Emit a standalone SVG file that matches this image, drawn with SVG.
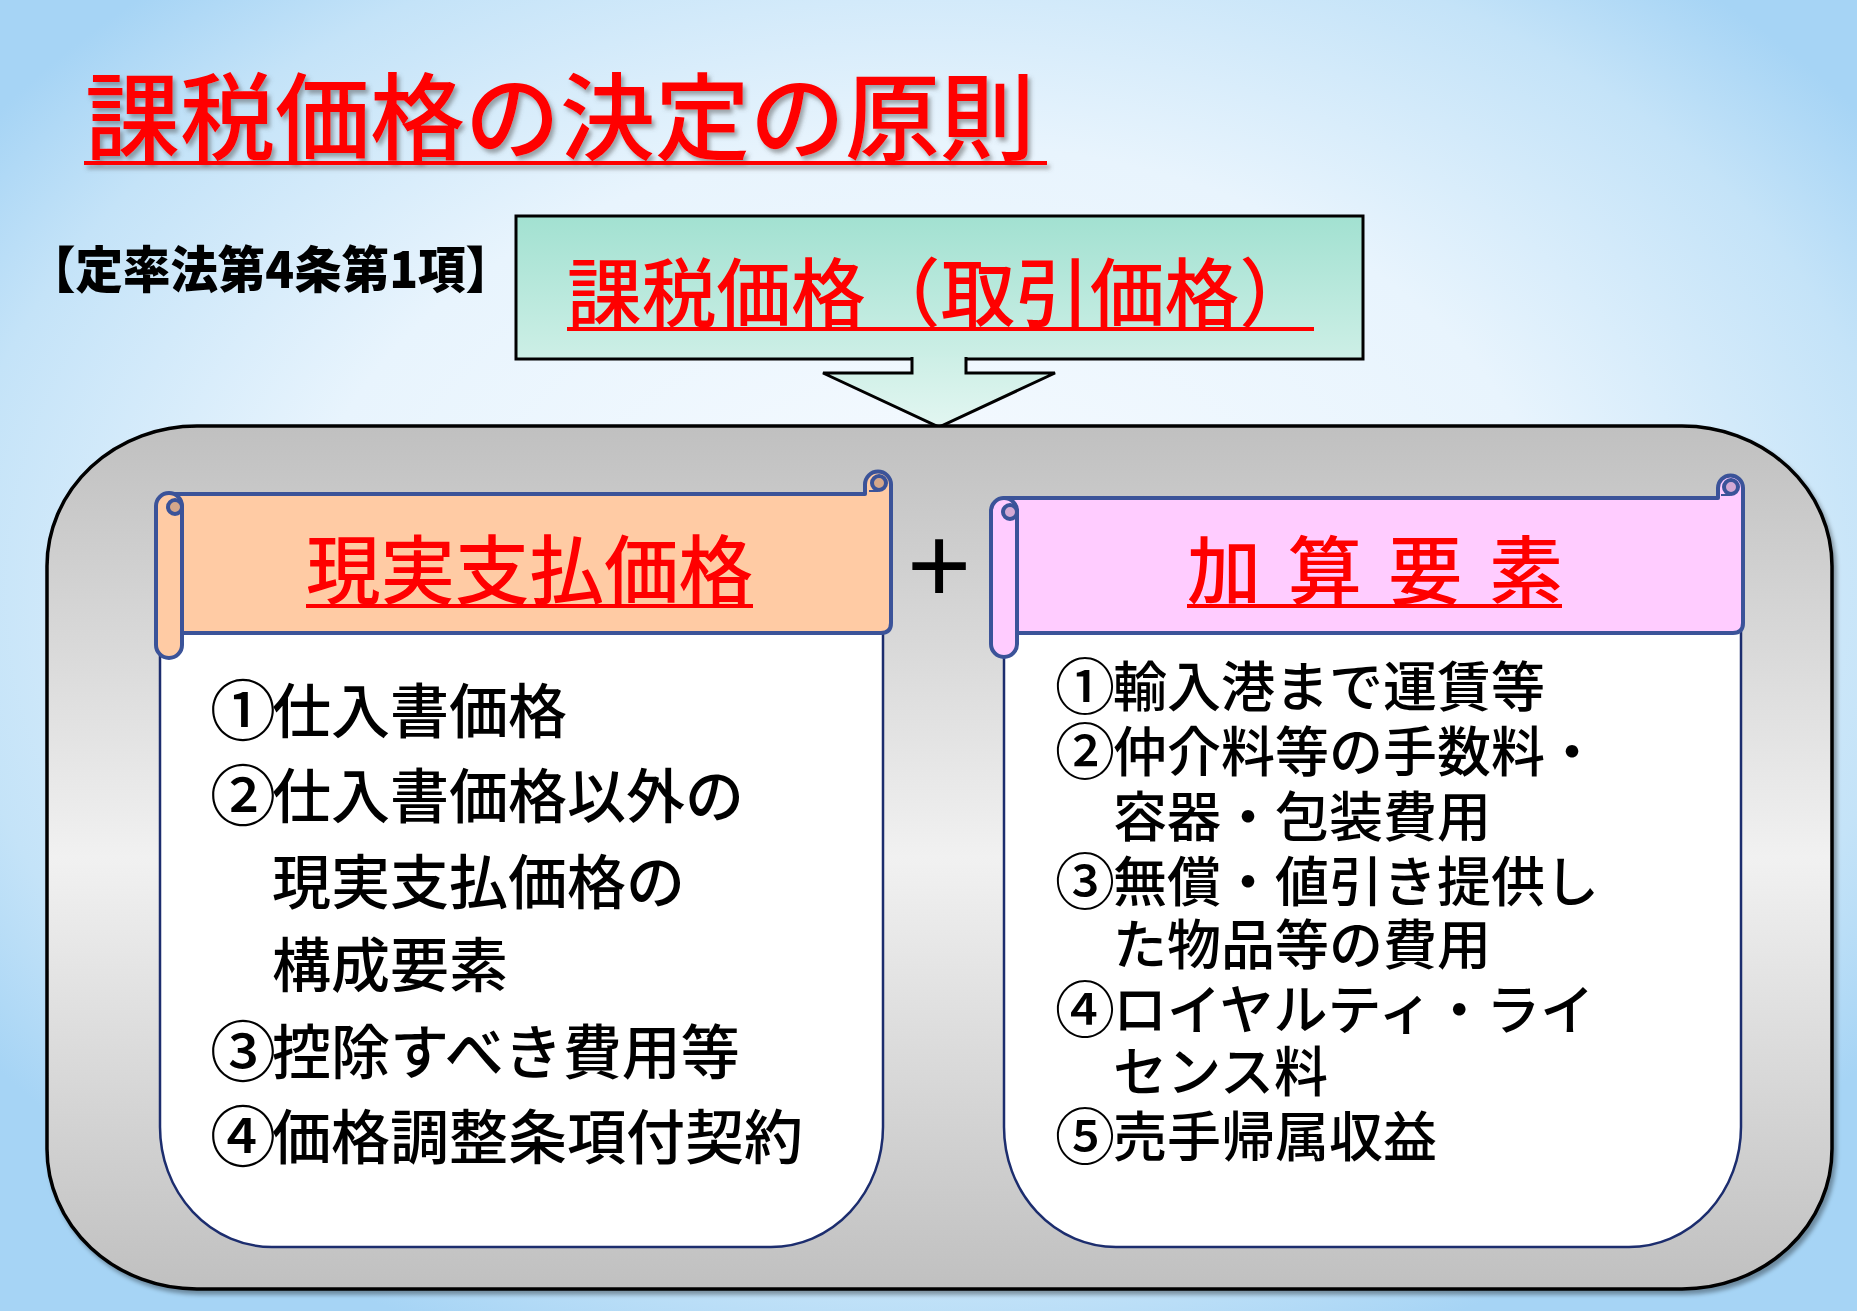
<svg xmlns="http://www.w3.org/2000/svg" width="1857" height="1311" viewBox="0 0 1857 1311">
<defs>
<radialGradient id="bg" cx="0.5" cy="0.45" r="0.62">
<stop offset="0" stop-color="#f7fbff"/>
<stop offset="0.55" stop-color="#e8f4fd"/>
<stop offset="0.85" stop-color="#c4e3f8"/>
<stop offset="1" stop-color="#a6d4f5"/>
</radialGradient>
<linearGradient id="gray" x1="0" y1="0" x2="0" y2="1">
<stop offset="0" stop-color="#c0c0c0"/>
<stop offset="0.5" stop-color="#f1f1f1"/>
<stop offset="1" stop-color="#c0c0c0"/>
</linearGradient>
<linearGradient id="teal" x1="0" y1="0" x2="0" y2="1">
<stop offset="0" stop-color="#a2e1d1"/>
<stop offset="1" stop-color="#cdefe6"/>
</linearGradient>
<linearGradient id="tealArrow" x1="0" y1="0" x2="0" y2="1">
<stop offset="0" stop-color="#cdefe6"/>
<stop offset="1" stop-color="#e2f6f1"/>
</linearGradient>
<filter id="shadow" x="-5%" y="-5%" width="110%" height="115%">
<feDropShadow dx="3" dy="4" stdDeviation="2" flood-color="#000" flood-opacity="0.35"/>
</filter>
<filter id="tshadow" x="-5%" y="-10%" width="110%" height="130%">
<feDropShadow dx="3" dy="4" stdDeviation="2" flood-color="#555" flood-opacity="0.5"/>
</filter>
<style>
.jp{font-family:"Noto Sans CJK JP","Noto Sans CJK SC",sans-serif;}
.red{fill:#ff0000;font-weight:500;}
.item{fill:#000;font-weight:500;}
.L{font-size:59px;}
.R{font-size:54px;}
.cL{font-size:66px;}
.cR{font-size:60px;}
.scroll{stroke:#3b5399;stroke-width:4;stroke-linejoin:round;}
.peach{fill:#ffcba4;}
.peachD{fill:#d5a78a;}
.pink{fill:#ffccff;}
.pinkD{fill:#d4a9d4;}
.panel{fill:#ffffff;stroke:#1c2d6e;stroke-width:2.5;}
.ul{fill:#ff0000;}
</style>
</defs>
<rect x="0" y="0" width="1857" height="1311" fill="url(#bg)"/>

<g id="title" filter="url(#tshadow)">
<text class="jp red" x="85" y="153" font-size="95">課税価格の決定の原則</text>
<rect class="ul" x="84" y="161" width="963" height="4"/>
</g>

<g id="law-ref">
<text class="jp" x="28" y="288" font-size="50" font-weight="900" fill="#000" textLength="485" lengthAdjust="spacingAndGlyphs">【定率法第4条第1項】</text>
</g>

<g id="taxable-value">
<rect x="516" y="216" width="847" height="143" fill="url(#teal)" stroke="#000" stroke-width="3"/>
<text class="jp red" x="567" y="321" font-size="74.7">課税価格（取引価格）</text>
<rect class="ul" x="567" y="327" width="747" height="4"/>
</g>

<g id="connectors">
<path d="M912,357 V373 H823 L939,427 L1055,373 H966 V357" fill="url(#tealArrow)" stroke="#000" stroke-width="3" stroke-linejoin="miter"/>
</g>

<g id="container">
<rect x="47" y="426" width="1785" height="863" rx="150" ry="140" fill="url(#gray)" stroke="#000" stroke-width="3.5" filter="url(#shadow)"/>
</g>

<g id="actual-price">
<path class="panel" d="M160,620 V1127 A112,120 0 0 0 272,1247 H771 A112,120 0 0 0 883,1127 V620"/>
<path class="scroll peach" d="M169,494 H865 V484.5 A13,13 0 0 1 891,484.5 V623 Q891,633 881,633 H169 Z"/>
<circle class="scroll peachD" cx="879" cy="483" r="7" stroke-width="3"/>
<line x1="869" y1="491" x2="878" y2="491" stroke="#3b5399" stroke-width="2"/>
<rect class="scroll peach" x="156" y="493" width="26" height="165" rx="13" ry="13"/>
<circle class="scroll peachD" cx="175" cy="507" r="7" stroke-width="3"/>
<text class="jp red" x="306" y="598" font-size="74.5">現実支払価格</text>
<rect class="ul" x="306" y="604" width="447" height="4"/>
<text class="jp item L" x="210" y="735"><tspan class="cL">①</tspan><tspan dx="-4" dy="-2">仕入書価格</tspan></text>
<text class="jp item L" x="210" y="820"><tspan class="cL">②</tspan><tspan dx="-4" dy="-2">仕入書価格以外の</tspan></text>
<text class="jp item L" x="272" y="904">現実支払価格の</text>
<text class="jp item L" x="272" y="987">構成要素</text>
<text class="jp item L" x="210" y="1076"><tspan class="cL">③</tspan><tspan dx="-4" dy="-2">控除すべき費用等</tspan></text>
<text class="jp item L" x="210" y="1161"><tspan class="cL">④</tspan><tspan dx="-4" dy="-2">価格調整条項付契約</tspan></text>
</g>

<g id="plus">
<text x="939" y="603" font-family="Liberation Sans, Arial, sans-serif" font-size="110" text-anchor="middle" fill="#000">+</text>
</g>

<g id="additions">
<path class="panel" d="M1004,620 V1127 A112,120 0 0 0 1116,1247 H1629 A112,120 0 0 0 1741,1127 V620"/>
<path class="scroll pink" d="M1004,498 H1718 V488 A12.5,12.5 0 0 1 1743,488 V623 Q1743,633 1733,633 H1004 Z"/>
<circle class="scroll pinkD" cx="1731" cy="487" r="7" stroke-width="3"/>
<line x1="1721" y1="495" x2="1730" y2="495" stroke="#3b5399" stroke-width="2"/>
<rect class="scroll pink" x="991" y="498" width="26" height="159" rx="13" ry="13"/>
<circle class="scroll pinkD" cx="1010" cy="512" r="7" stroke-width="3"/>
<text class="jp red" x="1187" y="598" font-size="74" letter-spacing="5" xml:space="preserve">加 算 要 素</text>
<rect class="ul" x="1187" y="604" width="375" height="4"/>
<text class="jp item R" x="1055" y="709"><tspan class="cR">①</tspan><tspan dx="-2" dy="-2">輸入港まで運賃等</tspan></text>
<text class="jp item R" x="1055" y="774"><tspan class="cR">②</tspan><tspan dx="-2" dy="-2">仲介料等の手数料・</tspan></text>
<text class="jp item R" x="1113" y="837">容器・包装費用</text>
<text class="jp item R" x="1055" y="904"><tspan class="cR">③</tspan><tspan dx="-2" dy="-2">無償・値引き提供し</tspan></text>
<text class="jp item R" x="1113" y="965">た物品等の費用</text>
<text class="jp item R" x="1055" y="1032"><tspan class="cR">④</tspan><tspan dx="-2" dy="-2">ロイヤルティ・ライ</tspan></text>
<text class="jp item R" x="1113" y="1092">センス料</text>
<text class="jp item R" x="1055" y="1159"><tspan class="cR">⑤</tspan><tspan dx="-2" dy="-2">売手帰属収益</tspan></text>
</g>
</svg>
